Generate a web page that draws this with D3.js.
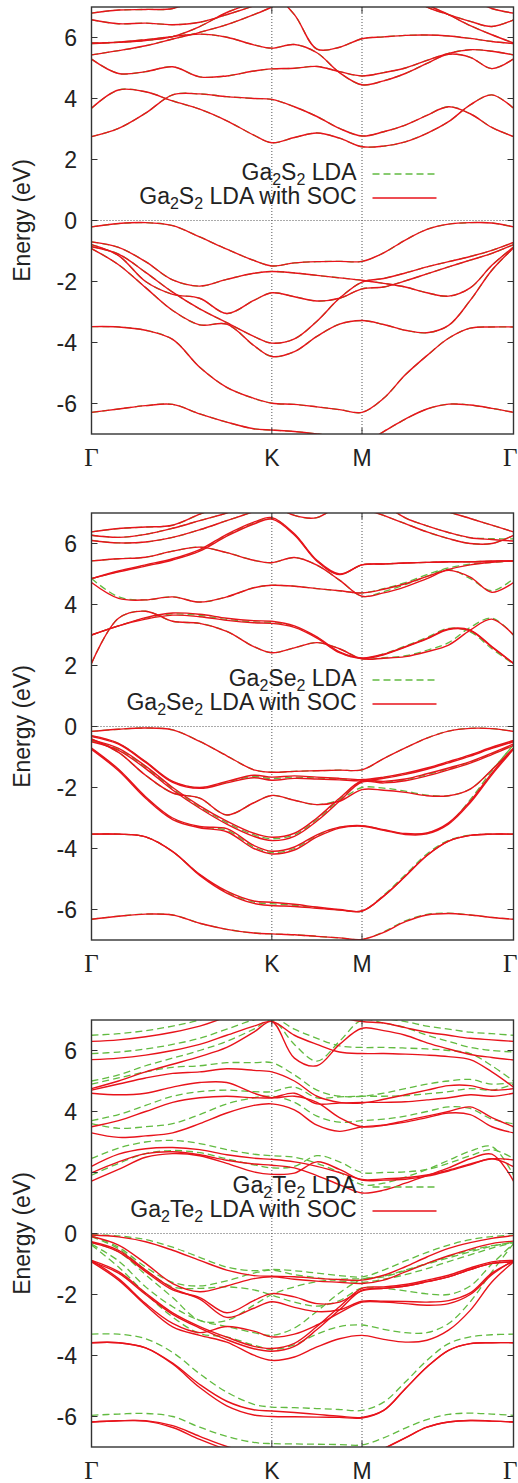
<!DOCTYPE html>
<html><head><meta charset="utf-8">
<script src="https://cdn.jsdelivr.net/npm/d3@7"></script>
<style>body{margin:0;background:#fff}svg{display:block}</style>
</head><body>
<script>
// k-path sample points (Γ=0, K=1, M=1.5, Γ=2.34)
const kGrid = [0,0.15,0.3,0.45,0.6,0.75,0.9,1,1.125,1.25,1.375,1.5,1.62,1.74,1.86,1.98,2.1,2.22,2.34];
const kTickPos = [0,1,1.5,2.34];
const kTickLabels = ["Γ","K","M","Γ"];
const yTicks = [-6,-4,-2,0,2,4,6];

// ---------- Ga2S2 (with SOC) ----------
const s2Soc = [
 [-0.21,-0.10,-0.07,-0.17,-0.54,-0.94,-1.31,-1.49,-1.39,-1.35,-1.34,-1.34,-1.06,-0.64,-0.29,-0.12,-0.07,-0.08,-0.21],
 [-0.70,-0.88,-1.35,-1.95,-2.15,-1.93,-1.73,-1.67,-1.72,-1.80,-1.88,-1.96,-2.06,-2.18,-2.37,-2.48,-2.21,-1.47,-0.87],
 [-0.79,-1.15,-2.0,-2.42,-2.55,-3.05,-2.62,-2.37,-2.5,-2.64,-2.55,-2.24,-2.18,-1.98,-1.75,-1.52,-1.30,-1.08,-0.79],
 [-0.86,-1.1,-1.7,-2.35,-2.9,-3.35,-3.8,-4.02,-3.88,-3.3,-2.55,-2.02,-1.90,-1.72,-1.52,-1.35,-1.18,-0.98,-0.72],
 [-0.92,-1.45,-2.2,-2.95,-3.42,-3.4,-4.1,-4.46,-4.3,-3.8,-3.4,-3.28,-3.41,-3.6,-3.68,-3.44,-2.62,-1.63,-0.90],
 [-3.48,-3.49,-3.6,-3.9,-4.81,-5.47,-5.83,-5.99,-6.03,-6.11,-6.2,-6.29,-5.83,-5.06,-4.43,-3.86,-3.53,-3.49,-3.49],
 [-6.29,-6.18,-6.07,-6.03,-6.34,-6.61,-6.83,-6.87,-6.92,-7.0,-7.1,-7.3,-6.92,-6.51,-6.18,-6.02,-6.05,-6.16,-6.29],
 [2.75,3.02,3.52,4.12,4.15,4.06,4.0,3.97,3.73,3.41,3.02,2.77,2.91,3.13,3.45,3.73,3.5,3.05,2.75],
 [3.68,4.28,4.22,3.92,3.65,3.27,2.8,2.55,2.72,2.87,2.7,2.42,2.44,2.58,2.86,3.24,3.79,4.12,3.68],
 [5.29,4.82,4.88,5.04,4.71,4.74,4.9,4.97,4.99,5.05,4.88,4.74,4.85,5.0,5.25,5.48,5.6,5.55,5.43],
 [5.82,5.85,5.93,6.03,6.11,6.01,5.76,5.65,5.77,5.5,4.85,4.45,4.58,4.82,5.15,5.45,5.35,4.98,5.3],
 [8.5,8.5,8.4,8.3,8.1,7.9,7.6,7.45,6.75,5.62,5.68,5.96,6.02,6.07,6.08,6.05,5.97,5.87,5.8],
 [6.58,6.45,6.47,6.42,6.5,6.75,7.04,7.3,7.8,8.2,8.4,8.5,8.0,7.4,7.0,6.75,6.53,6.36,6.58],
 [5.43,5.57,5.73,5.95,6.17,6.42,6.75,7.0,7.4,7.8,8.2,8.5,8.0,7.5,7.08,6.75,6.39,6.09,5.82],
 [5.8,5.84,5.9,6.03,6.36,6.82,7.15,7.4,7.8,8.2,8.5,8.7,8.6,8.3,8.0,7.7,7.3,6.95,6.8],
 [6.8,6.9,6.92,6.95,7.3,7.8,8.2,8.5,8.8,9,9,9,9,9,8.8,8.4,7.9,7.4,7.05]
];
// LDA bands of Ga2S2 lie on top of the SOC bands at this scale
const s2Lda = s2Soc;

// ---------- Ga2Se2 (with SOC) ----------
const se2Soc = [
 [-0.16,-0.09,-0.05,-0.11,-0.49,-0.96,-1.42,-1.5,-1.47,-1.45,-1.43,-1.42,-1.05,-0.7,-0.38,-0.15,-0.06,-0.07,-0.16],
 [-0.3,-0.55,-1.15,-1.8,-2.0,-1.8,-1.6,-1.66,-1.62,-1.66,-1.7,-1.74,-1.66,-1.53,-1.36,-1.15,-0.93,-0.68,-0.46],
 [-0.33,-0.58,-1.18,-1.83,-2.03,-1.85,-1.68,-1.76,-1.7,-1.72,-1.75,-1.78,-1.7,-1.57,-1.4,-1.19,-0.97,-0.72,-0.5],
 [-0.41,-0.85,-1.6,-2.18,-2.35,-2.9,-2.5,-2.26,-2.42,-2.56,-2.45,-2.07,-2.09,-2.16,-2.27,-2.27,-2.05,-1.42,-0.71],
 [-0.44,-0.72,-1.3,-2.0,-2.6,-3.1,-3.5,-3.63,-3.5,-3.0,-2.35,-1.78,-1.8,-1.72,-1.55,-1.36,-1.15,-0.87,-0.57],
 [-0.5,-0.78,-1.38,-2.08,-2.68,-3.2,-3.6,-3.74,-3.6,-3.1,-2.45,-1.82,-1.85,-1.78,-1.62,-1.42,-1.2,-0.92,-0.62],
 [-0.71,-1.4,-2.3,-3.0,-3.28,-3.35,-3.9,-4.09,-3.95,-3.55,-3.3,-3.25,-3.38,-3.51,-3.49,-3.16,-2.45,-1.53,-0.71],
 [-0.75,-1.45,-2.35,-3.05,-3.32,-3.45,-4.0,-4.18,-4.05,-3.62,-3.33,-3.27,-3.4,-3.54,-3.52,-3.2,-2.5,-1.58,-0.75],
 [-3.53,-3.53,-3.62,-4.1,-4.85,-5.4,-5.72,-5.76,-5.83,-5.92,-6.0,-6.05,-5.56,-4.91,-4.23,-3.76,-3.57,-3.53,-3.53],
 [-3.53,-3.53,-3.62,-4.1,-4.88,-5.46,-5.8,-5.87,-5.9,-5.96,-6.02,-6.05,-5.56,-4.91,-4.23,-3.76,-3.57,-3.53,-3.53],
 [-6.32,-6.22,-6.15,-6.18,-6.45,-6.65,-6.77,-6.8,-6.83,-6.88,-6.93,-6.98,-6.75,-6.4,-6.18,-6.13,-6.18,-6.26,-6.32],
 [3.0,3.3,3.57,3.72,3.68,3.55,3.47,3.45,3.3,2.94,2.45,2.25,2.37,2.62,2.89,3.2,3.16,2.62,2.07],
 [3.0,3.3,3.52,3.65,3.6,3.48,3.40,3.38,3.25,2.9,2.42,2.23,2.35,2.6,2.87,3.18,3.14,2.6,2.07],
 [2.07,3.55,3.78,3.45,3.38,3.12,2.62,2.42,2.58,2.75,2.55,2.22,2.24,2.29,2.45,2.67,3.16,3.52,3.0],
 [4.72,4.2,4.15,4.25,4.08,4.25,4.55,4.63,4.6,4.52,4.45,4.38,4.5,4.68,4.92,5.15,5.3,5.38,5.43],
 [5.43,5.5,5.55,5.75,5.88,5.7,5.45,5.37,5.54,5.29,4.8,4.27,4.38,4.58,4.85,5.12,4.9,4.4,4.72],
 [4.85,5.1,5.3,5.5,5.8,6.3,6.7,6.85,6.32,5.45,5.0,5.3,5.33,5.36,5.38,5.4,5.4,5.42,5.43],
 [4.85,5.07,5.26,5.46,5.75,6.24,6.64,6.8,6.28,5.42,4.98,5.3,5.33,5.36,5.38,5.4,5.4,5.42,5.43],
 [6.38,6.49,6.54,6.6,6.96,7.3,7.6,7.8,8,8,8,8,8,7.6,7.2,7.03,6.82,6.6,6.38],
 [6.27,6.2,6.3,6.5,6.75,7.0,7.3,7.5,7.8,8,8,7.2,6.92,6.65,6.38,6.16,6.0,6.0,6.27],
 [6.1,6.02,6.05,6.2,6.45,6.75,7.05,7.3,7.6,7.8,7.9,7.8,7.3,6.84,6.58,6.36,6.19,6.13,6.08],
 [8,8,8,8,8,8,7.6,7.3,6.92,6.85,7.3,7.8,8,8,8,8,8,8,8]
];
// ---------- Ga2Se2 (LDA) ----------
const se2Lda = [
 [-0.16,-0.09,-0.05,-0.11,-0.49,-0.96,-1.42,-1.5,-1.47,-1.45,-1.43,-1.42,-1.05,-0.7,-0.38,-0.15,-0.06,-0.07,-0.16],
 [-0.31,-0.56,-1.16,-1.81,-2.01,-1.82,-1.64,-1.71,-1.66,-1.69,-1.72,-1.76,-1.68,-1.55,-1.38,-1.17,-0.95,-0.7,-0.48],
 [-0.41,-0.85,-1.6,-2.18,-2.35,-2.9,-2.5,-2.26,-2.42,-2.56,-2.4,-2.0,-2.02,-2.12,-2.25,-2.27,-2.05,-1.42,-0.6],
 [-0.47,-0.75,-1.34,-2.04,-2.64,-3.15,-3.55,-3.68,-3.55,-3.05,-2.4,-1.8,-1.82,-1.75,-1.58,-1.39,-1.17,-0.9,-0.6],
 [-0.73,-1.42,-2.32,-3.02,-3.3,-3.4,-3.95,-4.13,-4.0,-3.58,-3.31,-3.26,-3.39,-3.52,-3.5,-3.18,-2.4,-1.45,-0.6],
 [-3.53,-3.53,-3.62,-4.1,-4.86,-5.43,-5.76,-5.81,-5.86,-5.94,-6.01,-6.05,-5.53,-4.86,-4.18,-3.73,-3.56,-3.53,-3.53],
 [-6.32,-6.22,-6.15,-6.18,-6.45,-6.65,-6.77,-6.8,-6.83,-6.88,-6.93,-6.98,-6.73,-6.37,-6.16,-6.12,-6.18,-6.26,-6.32],
 [3.0,3.3,3.55,3.69,3.64,3.51,3.43,3.41,3.27,2.92,2.43,2.24,2.38,2.64,2.92,3.22,3.1,2.55,2.05],
 [2.07,3.55,3.78,3.45,3.38,3.12,2.62,2.42,2.58,2.75,2.55,2.22,2.26,2.32,2.5,2.75,3.25,3.55,3.0],
 [4.85,4.25,4.15,4.25,4.08,4.25,4.55,4.63,4.6,4.52,4.45,4.38,4.52,4.72,4.98,5.2,5.32,5.38,5.43],
 [5.43,5.5,5.55,5.75,5.88,5.7,5.45,5.37,5.54,5.29,4.8,4.27,4.42,4.65,4.92,5.15,4.85,4.45,4.85],
 [4.85,5.08,5.28,5.48,5.77,6.27,6.67,6.83,6.3,5.44,4.99,5.3,5.33,5.36,5.38,5.4,5.4,5.42,5.43],
 [6.38,6.49,6.54,6.6,6.96,7.3,7.6,7.8,8,8,8,8,8,7.6,7.2,7.03,6.82,6.6,6.38],
 [6.27,6.2,6.3,6.5,6.75,7.0,7.3,7.5,7.8,8,8,7.2,6.92,6.65,6.38,6.16,6.0,6.0,6.27],
 [6.1,6.02,6.05,6.2,6.45,6.75,7.05,7.3,7.6,7.8,7.9,7.8,7.3,6.84,6.58,6.36,6.19,6.16,6.15],
 [8,8,8,8,8,8,7.6,7.3,6.92,6.85,7.3,7.8,8,8,8,8,8,8,8]
];

// ---------- Ga2Te2 (with SOC) ----------
const te2Soc = [
 [-0.05,-0.11,-0.27,-0.55,-0.88,-1.2,-1.38,-1.40,-1.42,-1.47,-1.51,-1.53,-1.37,-1.09,-0.77,-0.49,-0.3,-0.16,-0.07],
 [-0.1,-0.38,-0.98,-1.64,-1.91,-1.72,-1.48,-1.42,-1.5,-1.56,-1.6,-1.64,-1.53,-1.26,-0.98,-0.73,-0.51,-0.33,-0.25],
 [-0.27,-0.55,-1.2,-1.8,-2.15,-2.75,-2.45,-2.24,-2.42,-2.56,-2.5,-2.22,-2.22,-2.23,-2.25,-2.2,-1.95,-1.3,-0.91],
 [-0.3,-0.6,-1.25,-1.85,-2.1,-2.6,-2.2,-1.97,-2.08,-2.3,-2.25,-1.88,-1.8,-1.72,-1.58,-1.42,-1.18,-0.98,-0.93],
 [-0.88,-1.25,-1.95,-2.6,-3.05,-3.4,-3.7,-3.77,-3.6,-3.05,-2.4,-1.8,-1.75,-1.67,-1.53,-1.37,-1.13,-0.93,-0.88],
 [-0.93,-1.3,-2.0,-2.65,-3.1,-3.48,-3.78,-3.86,-3.7,-3.15,-2.5,-1.86,-1.8,-1.72,-1.58,-1.42,-1.18,-0.98,-0.93],
 [-0.93,-1.53,-2.35,-3.06,-3.34,-3.56,-3.99,-4.16,-4.05,-3.72,-3.45,-3.34,-3.47,-3.56,-3.5,-3.17,-2.52,-1.59,-0.93],
 [-0.88,-1.48,-2.3,-2.95,-3.25,-3.05,-3.2,-3.39,-3.3,-3.0,-2.6,-2.25,-2.25,-2.3,-2.35,-2.3,-2.0,-1.35,-0.88],
 [-3.58,-3.58,-3.75,-4.25,-4.95,-5.5,-5.78,-5.82,-5.87,-5.93,-5.99,-6.03,-5.8,-5.09,-4.38,-3.83,-3.61,-3.58,-3.58],
 [-3.58,-3.58,-3.75,-4.28,-5.05,-5.65,-5.95,-6.0,-6.01,-6.02,-6.03,-6.05,-5.8,-5.09,-4.38,-3.83,-3.61,-3.58,-3.58],
 [-6.18,-6.14,-6.14,-6.3,-6.65,-6.98,-7.2,-7.25,-7.3,-7.35,-7.35,-7.3,-7.05,-6.7,-6.35,-6.18,-6.13,-6.15,-6.18],
 [-6.18,-6.14,-6.15,-6.36,-6.75,-7.08,-7.3,-7.35,-7.4,-7.4,-7.4,-7.35,-7.05,-6.7,-6.35,-6.18,-6.13,-6.15,-6.18],
 [1.72,2.1,2.5,2.62,2.55,2.3,2.02,1.94,1.98,2.35,2.1,1.75,1.75,1.78,1.88,2.05,2.25,2.45,2.19],
 [1.99,2.35,2.62,2.68,2.58,2.4,2.28,2.24,2.15,1.9,1.6,1.33,1.42,1.65,1.9,2.15,2.45,2.6,1.72],
 [2.2,2.6,2.78,2.82,2.75,2.58,2.47,2.43,2.35,2.2,2.0,1.77,1.79,1.83,1.92,2.08,2.28,2.45,2.41],
 [3.3,3.15,3.2,3.3,3.6,3.95,4.2,4.25,4.05,3.55,3.35,3.5,3.55,3.65,3.8,3.95,3.9,3.5,3.3],
 [3.5,3.7,4.0,4.3,4.45,4.5,4.45,4.45,4.6,4.25,4.28,4.3,4.3,4.32,4.38,4.45,4.55,4.5,4.6],
 [4.6,4.55,4.6,4.8,4.95,4.95,4.6,4.45,4.5,4.3,3.8,3.5,3.55,3.7,3.85,4.0,4.15,3.8,3.5],
 [4.7,4.9,5.1,5.25,5.3,5.4,5.35,5.3,5.0,4.5,4.3,4.28,4.4,4.55,4.7,4.85,4.85,4.7,4.75],
 [4.75,5.0,5.3,5.55,5.8,6.1,6.6,6.95,5.75,5.5,6.2,6.73,6.65,6.5,6.25,6.05,5.87,5.77,5.69],
 [5.7,5.75,5.85,6.0,6.2,6.5,6.8,6.95,6.5,6.2,5.95,5.9,5.9,5.88,5.85,5.8,5.7,5.3,4.8],
 [6.3,6.35,6.45,6.6,6.8,7.1,7.4,7.6,7.6,7.4,7.1,6.95,6.9,6.75,6.6,6.5,6.4,6.35,6.3]
];
// ---------- Ga2Te2 (LDA) ----------
const te2Lda = [
 [-0.04,-0.08,-0.2,-0.45,-0.78,-1.1,-1.22,-1.18,-1.22,-1.3,-1.38,-1.42,-1.2,-0.9,-0.62,-0.38,-0.2,-0.1,-0.05],
 [-0.08,-0.45,-1.1,-1.6,-1.72,-1.55,-1.3,-1.2,-1.35,-1.45,-1.55,-1.6,-1.5,-1.35,-1.15,-0.92,-0.7,-0.48,-0.3],
 [-0.3,-0.6,-1.35,-2.1,-2.85,-2.85,-2.35,-2.0,-1.75,-1.58,-1.5,-1.48,-1.4,-1.2,-0.98,-0.75,-0.55,-0.4,-0.3],
 [-0.1,-0.5,-1.2,-1.75,-1.8,-1.75,-1.85,-2.02,-2.25,-2.38,-2.2,-1.78,-1.8,-1.88,-1.98,-2.0,-1.72,-1.0,-0.33],
 [-0.35,-0.9,-1.75,-2.4,-2.85,-3.05,-3.25,-3.34,-3.1,-2.55,-1.95,-1.5,-1.42,-1.22,-1.0,-0.8,-0.6,-0.42,-0.28],
 [-0.38,-1.1,-1.97,-2.74,-3.28,-3.39,-3.66,-3.8,-3.65,-3.3,-3.05,-3.0,-3.14,-3.25,-3.25,-2.95,-2.24,-1.26,-0.33],
 [-3.3,-3.3,-3.45,-3.9,-4.6,-5.2,-5.6,-5.69,-5.71,-5.74,-5.77,-5.8,-5.53,-4.87,-4.16,-3.61,-3.39,-3.32,-3.3],
 [-5.96,-5.92,-5.9,-6.0,-6.35,-6.65,-6.85,-6.89,-6.9,-6.91,-6.92,-6.93,-6.7,-6.38,-6.1,-5.93,-5.89,-5.92,-5.96],
 [1.91,2.3,2.62,2.72,2.65,2.45,2.25,2.15,2.2,2.55,2.35,2.0,2.0,2.02,2.1,2.3,2.55,2.75,2.46],
 [2.46,2.8,3.0,3.05,2.95,2.75,2.6,2.55,2.5,2.3,2.0,1.6,1.65,1.85,2.1,2.4,2.7,2.85,1.91],
 [3.6,3.45,3.5,3.6,3.9,4.25,4.45,4.5,4.3,3.85,3.65,3.7,3.75,3.85,4.0,4.15,4.1,3.75,3.6],
 [3.7,3.9,4.2,4.5,4.65,4.7,4.65,4.65,4.8,4.45,4.48,4.5,4.5,4.52,4.58,4.65,4.75,4.7,4.9],
 [4.9,5.1,5.3,5.45,5.5,5.6,5.6,5.6,5.2,4.7,4.5,4.5,4.6,4.75,4.9,5.0,5.05,4.9,4.95],
 [5.0,5.2,5.5,5.75,6.0,6.3,6.7,7.0,6.2,5.65,6.3,7.0,6.9,6.75,6.5,6.3,6.1,6.0,5.95],
 [5.9,5.95,6.05,6.2,6.4,6.7,7.0,7.1,6.7,6.4,6.15,6.1,6.1,6.08,6.05,6.0,5.9,5.5,5.0],
 [6.5,6.55,6.65,6.8,7.0,7.3,7.6,7.8,7.8,7.6,7.3,7.1,7.05,6.95,6.8,6.7,6.6,6.55,6.5]
];

const panelNames = [["Ga","S"],["Ga","Se"],["Ga","Te"]];
const panelTops = [7,513,1020];
const socData = [s2Soc, se2Soc, te2Soc];
const ldaData = [s2Lda, se2Lda, te2Lda];

const W = 518, H = 1483;
const left = 91.5, right = 513.5, plotH = 427;
const RED = "#e8131b", GREEN = "#62bb41";
const FONT = "'Liberation Sans', Arial, Helvetica, sans-serif";

const svg = d3.select("body").append("svg").attr("width", W).attr("height", H);
const x = d3.scaleLinear().domain([0, 2.34]).range([left, right]);

panelTops.forEach((top, pi) => {
  const y = d3.scaleLinear().domain([-7, 7]).range([top + plotH, top]);
  const g = svg.append("g");
  const clipId = "clip" + pi;
  svg.append("clipPath").attr("id", clipId).append("rect")
    .attr("x", left).attr("y", top).attr("width", right - left).attr("height", plotH);

  // dotted reference lines
  [1, 1.5].forEach(k => g.append("line").attr("x1", x(k)).attr("x2", x(k))
    .attr("y1", top).attr("y2", top + plotH)
    .attr("stroke", "#555").attr("stroke-width", 1).attr("stroke-dasharray", "1,2"));
  g.append("line").attr("x1", left).attr("x2", right).attr("y1", y(0)).attr("y2", y(0))
    .attr("stroke", "#555").attr("stroke-width", 1).attr("stroke-dasharray", "1,2");

  const line = d3.line().x((d, i) => x(kGrid[i])).y(d => y(d)).curve(d3.curveCatmullRom.alpha(0.5));
  const bands = g.append("g").attr("clip-path", `url(#${clipId})`);
  bands.selectAll("path.lda").data(ldaData[pi]).join("path").attr("class", "lda")
    .attr("d", line).attr("fill", "none").attr("stroke", GREEN).attr("stroke-width", 1.3)
    .attr("stroke-dasharray", "7,4");
  bands.selectAll("path.soc").data(socData[pi]).join("path").attr("class", "soc")
    .attr("d", line).attr("fill", "none").attr("stroke", RED).attr("stroke-width", 1.4);

  // frame
  g.append("rect").attr("x", left).attr("y", top).attr("width", right - left).attr("height", plotH)
    .attr("fill", "none").attr("stroke", "#333").attr("stroke-width", 1.4);

  // y ticks
  yTicks.forEach(t => {
    g.append("line").attr("x1", left).attr("x2", left + 6).attr("y1", y(t)).attr("y2", y(t)).attr("stroke", "#333");
    g.append("line").attr("x1", right - 6).attr("x2", right).attr("y1", y(t)).attr("y2", y(t)).attr("stroke", "#333");
    g.append("text").attr("x", 77).attr("y", y(t)).attr("dy", "0.36em").attr("text-anchor", "end")
      .attr("font-family", FONT).attr("font-size", 23).attr("fill", "#222").text(t);
  });
  // x ticks and labels
  kTickPos.forEach((k, i) => {
    if (i > 0 && i < kTickPos.length - 1) {
      g.append("line").attr("x1", x(k)).attr("x2", x(k)).attr("y1", top + plotH).attr("y2", top + plotH - 6).attr("stroke", "#333");
      g.append("line").attr("x1", x(k)).attr("x2", x(k)).attr("y1", top).attr("y2", top + 6).attr("stroke", "#333");
    }
    const isG = kTickLabels[i] === "Γ";
    const last = i === kTickPos.length - 1;
    g.append("text").attr("x", last ? W - 0.5 : x(k)).attr("y", top + plotH + 32)
      .attr("text-anchor", last ? "end" : "middle")
      .attr("font-family", isG ? "'Liberation Serif', 'Times New Roman', serif" : FONT)
      .attr("font-size", isG ? 25 : 23).attr("fill", "#222").text(kTickLabels[i]);
  });
  // y label
  g.append("text").attr("transform", `translate(29.5,${top + plotH / 2}) rotate(-90)`)
    .attr("text-anchor", "middle").attr("font-family", FONT).attr("font-size", 23).attr("fill", "#222")
    .text("Energy (eV)");

  // legend
  const [a, b] = panelNames[pi];
  const rows = [{suffix: " LDA", color: GREEN, dash: "7,4", dy: 167},
                {suffix: " LDA with SOC", color: RED, dash: null, dy: 191}];
  rows.forEach(r => {
    const t = g.append("text").attr("x", 356.5).attr("y", top + r.dy + 5.5).attr("text-anchor", "end")
      .attr("font-family", FONT).attr("font-size", 23).attr("fill", "#222");
    t.append("tspan").text(a);
    t.append("tspan").attr("dy", 5).attr("font-size", 16).text("2");
    t.append("tspan").attr("dy", -5).text(b);
    t.append("tspan").attr("dy", 5).attr("font-size", 16).text("2");
    t.append("tspan").attr("dy", -5).text(r.suffix);
    const l = g.append("line").attr("x1", 372.5).attr("x2", 436.5).attr("y1", top + r.dy).attr("y2", top + r.dy)
      .attr("stroke", r.color).attr("stroke-width", 1.4);
    if (r.dash) l.attr("stroke-dasharray", r.dash);
  });
});
</script>
</body></html>
